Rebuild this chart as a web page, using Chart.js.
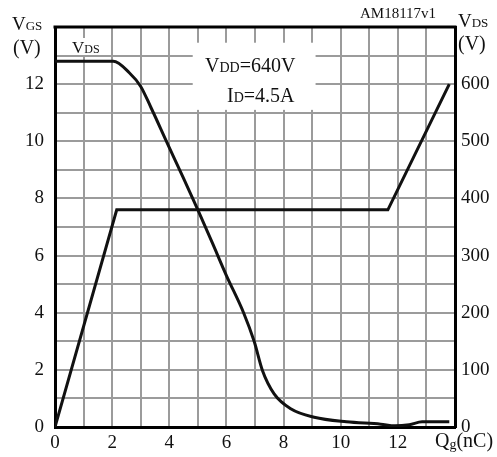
<!DOCTYPE html>
<html>
<head>
<meta charset="utf-8">
<script src="https://cdn.jsdelivr.net/npm/chart.js@4.4.1/dist/chart.umd.min.js"></script>
<style>
  html, body { margin: 0; padding: 0; background: #fff; }
  canvas { display: block; }
</style>
</head>
<body>
<canvas id="chart" width="497" height="457"></canvas>
<script>
// gate charge (nC) / VGS (V)
const qgVgs = [0, 2.16, 11.65, 13.8]
const vgs = [0, 7.6, 7.6, 12.0]

// gate charge (nC) / VDS (V), right axis
const qgVds = [0, 2.04, 2.6, 3.0, 3.35, 3.9, 4.5, 5.0, 5.5, 6.0, 6.6, 6.97, 7.26, 7.67, 8.25, 9.07, 10.2, 11.4, 11.9, 12.4, 12.85, 13.8]
const vds = [640, 640, 620, 596, 560, 500, 435, 380, 323, 265, 200, 150, 99, 58, 32, 17, 9, 5, 2, 4, 9, 9]

const xLabels = [0, 2, 4, 6, 8, 10, 12]
const vgsLabels = [0, 2, 4, 6, 8, 10, 12]
const vdsLabels = [0, 100, 200, 300, 400, 500, 600]

const serif = '"Liberation Serif", "Times New Roman", serif'
const gridColor = '#9b9b9b'

// text with mixed font sizes, e.g. V + small DS
function drawRich(ctx, parts, x, y) {
  let cx = x
  parts.forEach(p => {
    ctx.font = p[1] + 'px ' + serif
    ctx.fillText(p[0], cx, y + (p[2] || 0))
    cx += ctx.measureText(p[0]).width
  })
}

const overlay = {
  id: 'overlay',
  beforeDatasetsDraw(chart) {
    const ctx = chart.ctx
    const xs = chart.scales.x
    const ys = chart.scales.y
    ctx.save()
    ctx.fillStyle = '#fff'
    // white box behind conditions text
    const bx1 = xs.getPixelForValue(4.82), bx2 = xs.getPixelForValue(9.12)
    const by1 = ys.getPixelForValue(13.45), by2 = ys.getPixelForValue(11.1)
    ctx.fillRect(bx1, by1, bx2 - bx1, by2 - by1)
    // white patch behind VDS label
    ctx.fillRect(70, 38, 34, 17)
    ctx.restore()
  },
  afterDraw(chart) {
    const ctx = chart.ctx
    const a = chart.chartArea
    ctx.save()
    ctx.strokeStyle = '#000'
    ctx.lineWidth = 3
    ctx.beginPath()
    ctx.moveTo(a.left - 1.5, a.top)
    ctx.lineTo(a.right + 1.5, a.top)
    ctx.stroke()

    ctx.fillStyle = '#111'
    ctx.textBaseline = 'alphabetic'
    drawRich(ctx, [['V', 19], ['GS', 13]], 12, 30)
    drawRich(ctx, [['(V)', 20]], 13, 54)
    drawRich(ctx, [['V', 17], ['DS', 12]], 72, 53)
    drawRich(ctx, [['V', 19], ['DS', 13]], 458, 27)
    drawRich(ctx, [['(V)', 20]], 458, 50)
    drawRich(ctx, [['AM18117v1', 15]], 360, 18)
    drawRich(ctx, [['V', 20], ['DD', 14], ['=640V', 20]], 205, 72)
    drawRich(ctx, [['I', 20], ['D', 14], ['=4.5A', 20]], 227, 102)
    drawRich(ctx, [['Q', 20], ['g', 14, 2], ['(nC)', 20]], 435, 447)
    ctx.restore()
  }
}

new Chart(document.getElementById('chart'), {
  type: 'scatter',
  data: {
    datasets: [
      {
        label: 'VGS',
        data: qgVgs.map((q, i) => ({ x: q, y: vgs[i] })),
        yAxisID: 'y',
        showLine: true,
        borderColor: '#111',
        borderWidth: 3,
        pointRadius: 0,
        tension: 0
      },
      {
        label: 'VDS',
        data: qgVds.map((q, i) => ({ x: q, y: vds[i] })),
        yAxisID: 'y2',
        showLine: true,
        borderColor: '#111',
        borderWidth: 3,
        pointRadius: 0,
        cubicInterpolationMode: 'monotone'
      }
    ]
  },
  options: {
    responsive: false,
    animation: false,
    devicePixelRatio: 1,
    layout: { padding: { top: 27, left: 0, right: 0, bottom: 0 } },
    plugins: { legend: { display: false }, tooltip: { enabled: false } },
    scales: {
      x: {
        type: 'linear',
        position: 'bottom',
        min: 0,
        max: 14,
        afterFit: s => { s.height = 30 },
        ticks: {
          stepSize: 1,
          autoSkip: false,
          maxRotation: 0,
          padding: 5,
          color: '#111',
          font: { family: serif, size: 19 },
          callback: v => xLabels.includes(v) ? v : ''
        },
        grid: { color: gridColor, lineWidth: 2, drawTicks: false },
        border: { display: true, color: '#000', width: 3 }
      },
      y: {
        type: 'linear',
        position: 'left',
        min: 0,
        max: 14,
        afterFit: s => { s.width = 55 },
        ticks: {
          stepSize: 1,
          autoSkip: false,
          padding: 11,
          color: '#111',
          font: { family: serif, size: 19 },
          callback: v => vgsLabels.includes(v) ? v : ''
        },
        grid: { color: gridColor, lineWidth: 2, drawTicks: false },
        border: { display: true, color: '#000', width: 3 }
      },
      y2: {
        type: 'linear',
        position: 'right',
        min: 0,
        max: 700,
        afterFit: s => { s.width = 42 },
        ticks: {
          stepSize: 50,
          autoSkip: false,
          padding: 6,
          color: '#111',
          font: { family: serif, size: 19 },
          callback: v => vdsLabels.includes(v) ? v : ''
        },
        grid: { drawOnChartArea: false, drawTicks: false },
        border: { display: true, color: '#000', width: 3 }
      }
    }
  },
  plugins: [overlay]
})
</script>
</body>
</html>
